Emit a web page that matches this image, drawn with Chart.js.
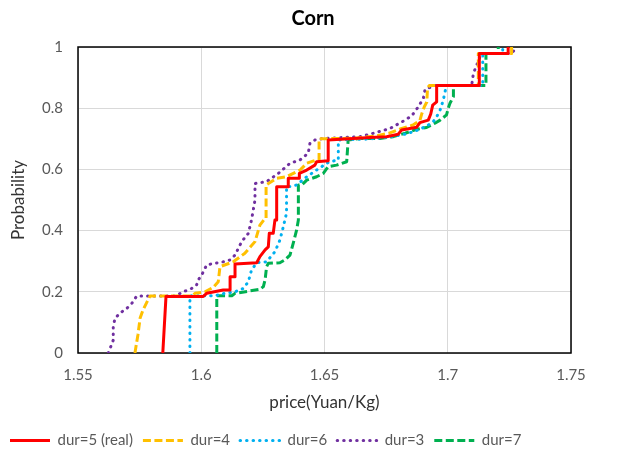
<!DOCTYPE html>
<html>
<head>
<meta charset="utf-8">
<title>Corn</title>
<script src="https://cdn.jsdelivr.net/npm/chart.js@4.4.0/dist/chart.umd.min.js"></script>
<style>
  body { margin: 0; background: #fff; }
</style>
</head>
<body>
<canvas id="cornChart" width="626" height="458"></canvas>
<script>
// axis ticks
var xTicks = [1.55, 1.6, 1.65, 1.7, 1.75];
var yTicks = [0, 0.2, 0.4, 0.6, 0.8, 1];

// dur=5 (real)
var dur5Price = [1.5844, 1.5857, 1.6008, 1.6022, 1.6089, 1.6117, 1.6117, 1.6137, 1.6137, 1.6225,
  1.6238, 1.6259, 1.6272, 1.6276, 1.6292, 1.6299, 1.6306, 1.6306, 1.6353, 1.6353,
  1.6398, 1.6398, 1.6428, 1.6461, 1.6468, 1.6515, 1.6515, 1.6583, 1.6685, 1.6752,
  1.6799, 1.6813, 1.6874, 1.6887, 1.6921, 1.6931, 1.6939, 1.6955, 1.6955, 1.7128,
  1.7128, 1.7245, 1.7245];
var dur5Prob = [0, 0.185, 0.185, 0.195, 0.206, 0.206, 0.249, 0.249, 0.291, 0.295,
  0.315, 0.337, 0.347, 0.391, 0.391, 0.435, 0.435, 0.543, 0.543, 0.571,
  0.571, 0.587, 0.598, 0.614, 0.625, 0.628, 0.696, 0.699, 0.704, 0.707,
  0.715, 0.729, 0.738, 0.753, 0.761, 0.781, 0.810, 0.821, 0.874, 0.874,
  0.979, 0.979, 1];

// dur=4
var dur4Price = [1.5731, 1.5743, 1.5752, 1.5764, 1.5780, 1.5792, 1.5961, 1.5975, 1.6015, 1.6049,
  1.6069, 1.6076, 1.6130, 1.6177, 1.6218, 1.6238, 1.6259, 1.6263, 1.6263, 1.6306,
  1.6346, 1.6401, 1.6428, 1.6468, 1.6478, 1.6478, 1.6620, 1.6700, 1.6760, 1.6810,
  1.6859, 1.6887, 1.6894, 1.6905, 1.6915, 1.6918, 1.6925, 1.7124, 1.7124, 1.7259,
  1.7259];
var dur4Prob = [0, 0.059, 0.114, 0.141, 0.167, 0.186, 0.186, 0.195, 0.200, 0.215,
  0.233, 0.282, 0.298, 0.326, 0.364, 0.418, 0.440, 0.440, 0.549, 0.571,
  0.576, 0.598, 0.620, 0.631, 0.631, 0.700, 0.702, 0.708, 0.718, 0.733,
  0.745, 0.760, 0.780, 0.805, 0.820, 0.866, 0.874, 0.874, 0.979, 0.979,
  1];

// dur=6
var dur6Price = [1.5954, 1.5954, 1.6056, 1.6096, 1.6137, 1.6171, 1.6191, 1.6204, 1.6225, 1.6265,
  1.6299, 1.6319, 1.6333, 1.6346, 1.6346, 1.6360, 1.6387, 1.6428, 1.6468, 1.6509,
  1.6522, 1.6556, 1.6556, 1.6670, 1.6760, 1.6833, 1.6887, 1.6921, 1.6941, 1.6955,
  1.6969, 1.6982, 1.6989, 1.6995, 1.7142, 1.7142, 1.7223, 1.7223];
var dur6Prob = [0, 0.187, 0.187, 0.195, 0.200, 0.211, 0.233, 0.271, 0.295, 0.298,
  0.331, 0.369, 0.413, 0.457, 0.544, 0.544, 0.549, 0.576, 0.598, 0.620,
  0.625, 0.631, 0.696, 0.699, 0.705, 0.716, 0.731, 0.745, 0.756, 0.772,
  0.794, 0.827, 0.854, 0.874, 0.874, 0.979, 0.979, 1];

// dur=3
var dur3Price = [1.5623, 1.5643, 1.5643, 1.5650, 1.5670, 1.5698, 1.5718, 1.5738, 1.5894, 1.5927,
  1.5961, 1.5981, 1.5988, 1.6002, 1.6022, 1.6089, 1.6117, 1.6137, 1.6164, 1.6191,
  1.6204, 1.6218, 1.6218, 1.6265, 1.6313, 1.6360, 1.6401, 1.6434, 1.6441, 1.6461,
  1.6495, 1.6644, 1.6698, 1.6766, 1.6820, 1.6854, 1.6881, 1.6901, 1.6908, 1.6948,
  1.7097, 1.7104, 1.7131, 1.7131, 1.7259, 1.7280];
var dur3Prob = [0, 0.042, 0.086, 0.113, 0.130, 0.146, 0.162, 0.186, 0.186, 0.200,
  0.211, 0.222, 0.239, 0.255, 0.288, 0.298, 0.304, 0.320, 0.364, 0.391,
  0.435, 0.500, 0.554, 0.560, 0.587, 0.620, 0.631, 0.653, 0.685, 0.696,
  0.701, 0.707, 0.718, 0.734, 0.758, 0.775, 0.805, 0.832, 0.862, 0.874,
  0.874, 0.914, 0.968, 0.979, 0.979, 1];

// dur=7
var dur7Price = [1.6063, 1.6063, 1.6124, 1.6137, 1.6238, 1.6252, 1.6259, 1.6265, 1.6272, 1.6319,
  1.6339, 1.6360, 1.6373, 1.6387, 1.6394, 1.6394, 1.6408, 1.6428, 1.6468, 1.6495,
  1.6515, 1.6549, 1.6590, 1.6596, 1.6644, 1.6725, 1.6779, 1.6827, 1.6874, 1.6914,
  1.6948, 1.6969, 1.6995, 1.7002, 1.7009, 1.7023, 1.7023, 1.7029, 1.7155, 1.7155,
  1.7205, 1.7205];
var dur7Prob = [0, 0.187, 0.187, 0.195, 0.208, 0.217, 0.239, 0.282, 0.293, 0.295,
  0.304, 0.320, 0.358, 0.402, 0.435, 0.549, 0.549, 0.565, 0.576, 0.587,
  0.609, 0.614, 0.625, 0.696, 0.701, 0.701, 0.707, 0.718, 0.731, 0.737,
  0.751, 0.761, 0.778, 0.800, 0.816, 0.838, 0.865, 0.874, 0.874, 0.979,
  0.979, 1];

var fontFam = "Lato, 'Liberation Sans', sans-serif";

function toPoints(xs, ys) {
  let pts = [];
  for (let i = 0; i < xs.length; i++) {
    pts.push({x: xs[i], y: ys[i]});
  }
  return pts;
}

function series(label, xs, ys, color, dash, cap) {
  return {
    label: label,
    data: toPoints(xs, ys),
    borderColor: color,
    backgroundColor: color,
    borderWidth: 3,
    borderDash: dash,
    borderCapStyle: cap,
    borderJoinStyle: 'round',
    pointRadius: 0,
    showLine: true,
    tension: 0
  };
}

// legend samples should use the line dash of each series
function legendLabels(chart) {
  let items = Chart.defaults.plugins.legend.labels.generateLabels(chart);
  items.forEach(function(it) {
    let ds = chart.data.datasets[it.datasetIndex];
    it.lineDash = ds.borderDash;
    it.lineCap = ds.borderCapStyle;
    it.lineWidth = ds.borderWidth;
    it.strokeStyle = ds.borderColor;
    it.fillStyle = ds.borderColor;
  });
  return items;
}

// black box round the plot area
var plotFrame = {
  id: 'plotFrame',
  beforeDatasetsDraw(chart) {
    let a = chart.chartArea;
    let ctx = chart.ctx;
    ctx.save();
    ctx.strokeStyle = '#000';
    ctx.lineWidth = 1.5;
    ctx.strokeRect(a.left, a.top, a.right - a.left, a.bottom - a.top);
    ctx.restore();
  }
};

var ctx = document.getElementById('cornChart').getContext('2d');
var cornChart = new Chart(ctx, {
  type: 'scatter',
  data: {
    datasets: [
      series('dur=5 (real)', dur5Price, dur5Prob, '#FF0000', [], 'butt'),
      series('dur=4', dur4Price, dur4Prob, '#FFC000', [8, 3.5], 'butt'),
      series('dur=6', dur6Price, dur6Prob, '#00B0F0', [0.5, 6], 'round'),
      series('dur=3', dur3Price, dur3Prob, '#7030A0', [0.5, 6], 'round'),
      series('dur=7', dur7Price, dur7Prob, '#00B050', [8, 3.5], 'butt')
    ]
  },
  options: {
    responsive: false,
    animation: false,
    devicePixelRatio: 1,
    layout: { padding: 0 },
    plugins: {
      title: {
        display: true,
        text: 'Corn',
        color: '#000',
        font: { family: fontFam, size: 20, weight: 'bold' },
        padding: { top: 7, bottom: 16 }
      },
      legend: {
        position: 'bottom',
        align: 'start',
        labels: {
          usePointStyle: true,
          pointStyle: 'line',
          pointStyleWidth: 40,
          padding: 10,
          color: '#595959',
          font: { family: fontFam, size: 15 },
          generateLabels: legendLabels
        }
      },
      tooltip: { enabled: false }
    },
    scales: {
      x: {
        type: 'linear',
        position: 'bottom',
        min: 1.55,
        max: 1.75,
        afterBuildTicks: function(s) { s.ticks = xTicks.map(function(v) { return {value: v}; }); },
        afterFit: function(s) { s.height = 70; },
        grid: { color: '#D9D9D9', drawTicks: false },
        border: { display: false },
        ticks: {
          padding: 13,
          color: '#595959',
          font: { family: fontFam, size: 15 },
          callback: function(v) { return String(v); }
        },
        title: {
          display: true,
          text: 'price(Yuan/Kg)',
          color: '#333',
          font: { family: fontFam, size: 17 },
          padding: { top: 0, bottom: 10 }
        }
      },
      y: {
        type: 'linear',
        position: 'left',
        min: 0,
        max: 1,
        afterBuildTicks: function(s) { s.ticks = yTicks.map(function(v) { return {value: v}; }); },
        afterFit: function(s) { s.width = 78; },
        grid: { color: '#D9D9D9', drawTicks: false },
        border: { display: false },
        ticks: {
          padding: 15,
          color: '#595959',
          font: { family: fontFam, size: 15 },
          callback: function(v) { return String(v); }
        },
        title: {
          display: true,
          text: 'Probability',
          color: '#333',
          font: { family: fontFam, size: 17 },
          padding: { top: 8, bottom: 0 }
        }
      },
      // empty space right of the plot
      pad: {
        type: 'linear',
        position: 'right',
        display: true,
        afterFit: function(s) { s.width = 55; },
        grid: { display: false, drawTicks: false },
        border: { display: false },
        ticks: { display: false }
      }
    }
  },
  plugins: [plotFrame]
});
</script>
</body>
</html>
